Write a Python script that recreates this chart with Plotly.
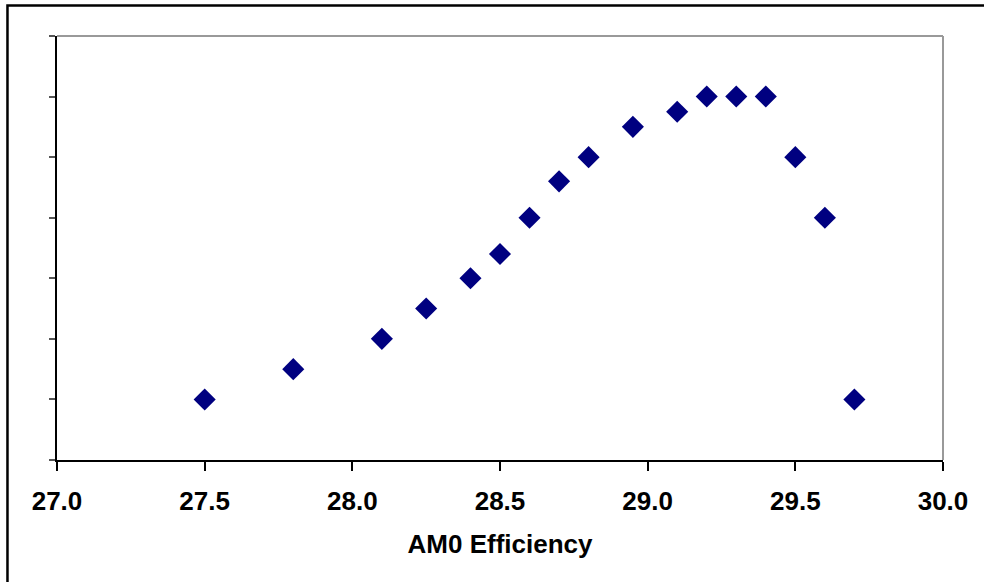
import plotly.graph_objects as go

efficiency = [27.5, 27.8, 28.1, 28.25, 28.4, 28.5, 28.6, 28.7, 28.8, 28.95,
              29.1, 29.2, 29.3, 29.4, 29.5, 29.6, 29.7]
values = [1.0, 1.5, 2.0, 2.5, 3.0, 3.4, 4.0, 4.6, 5.0, 5.5,
          5.75, 6.0, 6.0, 6.0, 5.0, 4.0, 1.0]
x_ticks = [27.0, 27.5, 28.0, 28.5, 29.0, 29.5, 30.0]

fig = go.Figure()
fig.add_trace(go.Scatter(
    x=efficiency, y=values, mode="markers",
    marker=dict(symbol="diamond", size=17, color="#000080",
                line=dict(width=0)),
    showlegend=False, cliponaxis=False,
))

fig.update_layout(
    width=984, height=582,
    margin=dict(l=57, r=41, t=36, b=122, autoexpand=False),
    paper_bgcolor="white", plot_bgcolor="white",
    font=dict(family="Liberation Sans, Arial, sans-serif", color="black"),
    xaxis=dict(
        range=[27, 30], tickvals=x_ticks, tickformat=".1f",
        ticks="outside", ticklen=9, tickcolor="black", tickwidth=1.5,
        showline=True, linecolor="black", linewidth=1.5,
        showgrid=False, zeroline=False, automargin=False,
        ticklabelstandoff=8,
        tickfont=dict(size=26, family="Liberation Sans, Arial, sans-serif", weight="bold"),
        title=dict(text="<b>AM0 Efficiency</b>", font=dict(size=26), standoff=20),
    ),
    yaxis=dict(
        range=[0, 7], dtick=1, ticks="outside", ticklen=6,
        tickcolor="#555555", tickwidth=1.5, automargin=False,
        showticklabels=False, showline=True, linecolor="black", linewidth=1.5,
        showgrid=False, zeroline=False,
    ),
    shapes=[
        dict(type="line", xref="paper", yref="paper", x0=0, x1=1, y0=1, y1=1,
             line=dict(color="#999999", width=2)),
        dict(type="line", xref="paper", yref="paper", x0=1, x1=1, y0=0, y1=1,
             line=dict(color="#999999", width=2)),
        dict(type="rect", xref="paper", yref="paper",
             x0=-0.0559, x1=1.2, y0=-0.5, y1=1.072,
             line=dict(color="black", width=2.5), layer="below"),
    ],
)

fig.write_html(
    "out.html",
    config={"displayModeBar": False},
    post_script="document.body.style.margin='0';document.body.style.overflow='hidden';",
)
